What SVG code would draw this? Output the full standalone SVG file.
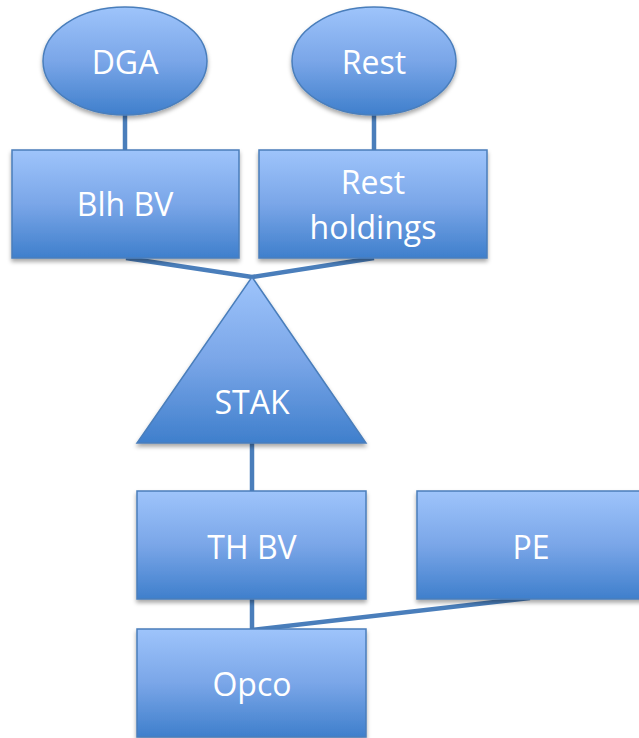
<svg xmlns="http://www.w3.org/2000/svg" width="639" height="738" viewBox="0 0 639 738">
<defs>
<linearGradient id="g" x1="0" y1="0" x2="0" y2="1">
<stop offset="0" stop-color="#9EC4FB"/>
<stop offset="0.5" stop-color="#7AA6E8"/>
<stop offset="1" stop-color="#3F7FCC"/>
</linearGradient>
<filter id="sh" x="-10%" y="-10%" width="120%" height="130%">
<feDropShadow dx="0" dy="3" stdDeviation="2" flood-color="#000" flood-opacity="0.35"/>
</filter>
</defs>
<style>
.n{fill:url(#g);stroke:#4A7EBB;stroke-width:1.5;filter:url(#sh)}
.t{fill:#fff;font-family:"Open Sans","Liberation Sans",sans-serif;font-size:32px;text-anchor:middle}
.c{stroke:#4A7EBB;stroke-width:4.5;fill:none;stroke-linecap:butt}
</style>
<g id="connectors">
<line class="c" x1="125" y1="114" x2="125" y2="151"/>
<line class="c" x1="374" y1="114" x2="374" y2="151"/>
<polyline class="c" points="126,258 252,277 374,258"/>
<line class="c" x1="252" y1="442" x2="252" y2="492"/>
<line class="c" x1="252" y1="598" x2="252" y2="630"/>
<line class="c" x1="530" y1="598" x2="252" y2="630"/>
</g>
<g id="DGA"><ellipse class="n" cx="125" cy="61" rx="82" ry="54"/><text class="t" x="125" y="74">DGA</text></g>
<g id="Rest"><ellipse class="n" cx="374" cy="61" rx="82" ry="54"/><text class="t" x="374" y="74">Rest</text></g>
<g id="BlhBV"><rect class="n" x="12" y="150" width="227" height="108"/><text class="t" x="125" y="216">Blh BV</text></g>
<g id="RestHoldings"><rect class="n" x="259" y="150" width="228" height="108"/><text class="t" x="373" y="194">Rest</text><text class="t" x="373" y="239">holdings</text></g>
<g id="STAK"><polygon class="n" points="252,277 366,443 137,443"/><text class="t" x="252" y="414">STAK</text></g>
<g id="THBV"><rect class="n" x="137" y="491" width="229" height="108"/><text class="t" x="252" y="559">TH BV</text></g>
<g id="PE"><rect class="n" x="417" y="491" width="229" height="108"/><text class="t" x="531" y="559">PE</text></g>
<g id="Opco"><rect class="n" x="137" y="629" width="229" height="108"/><text class="t" x="252" y="696">Opco</text></g>
</svg>
